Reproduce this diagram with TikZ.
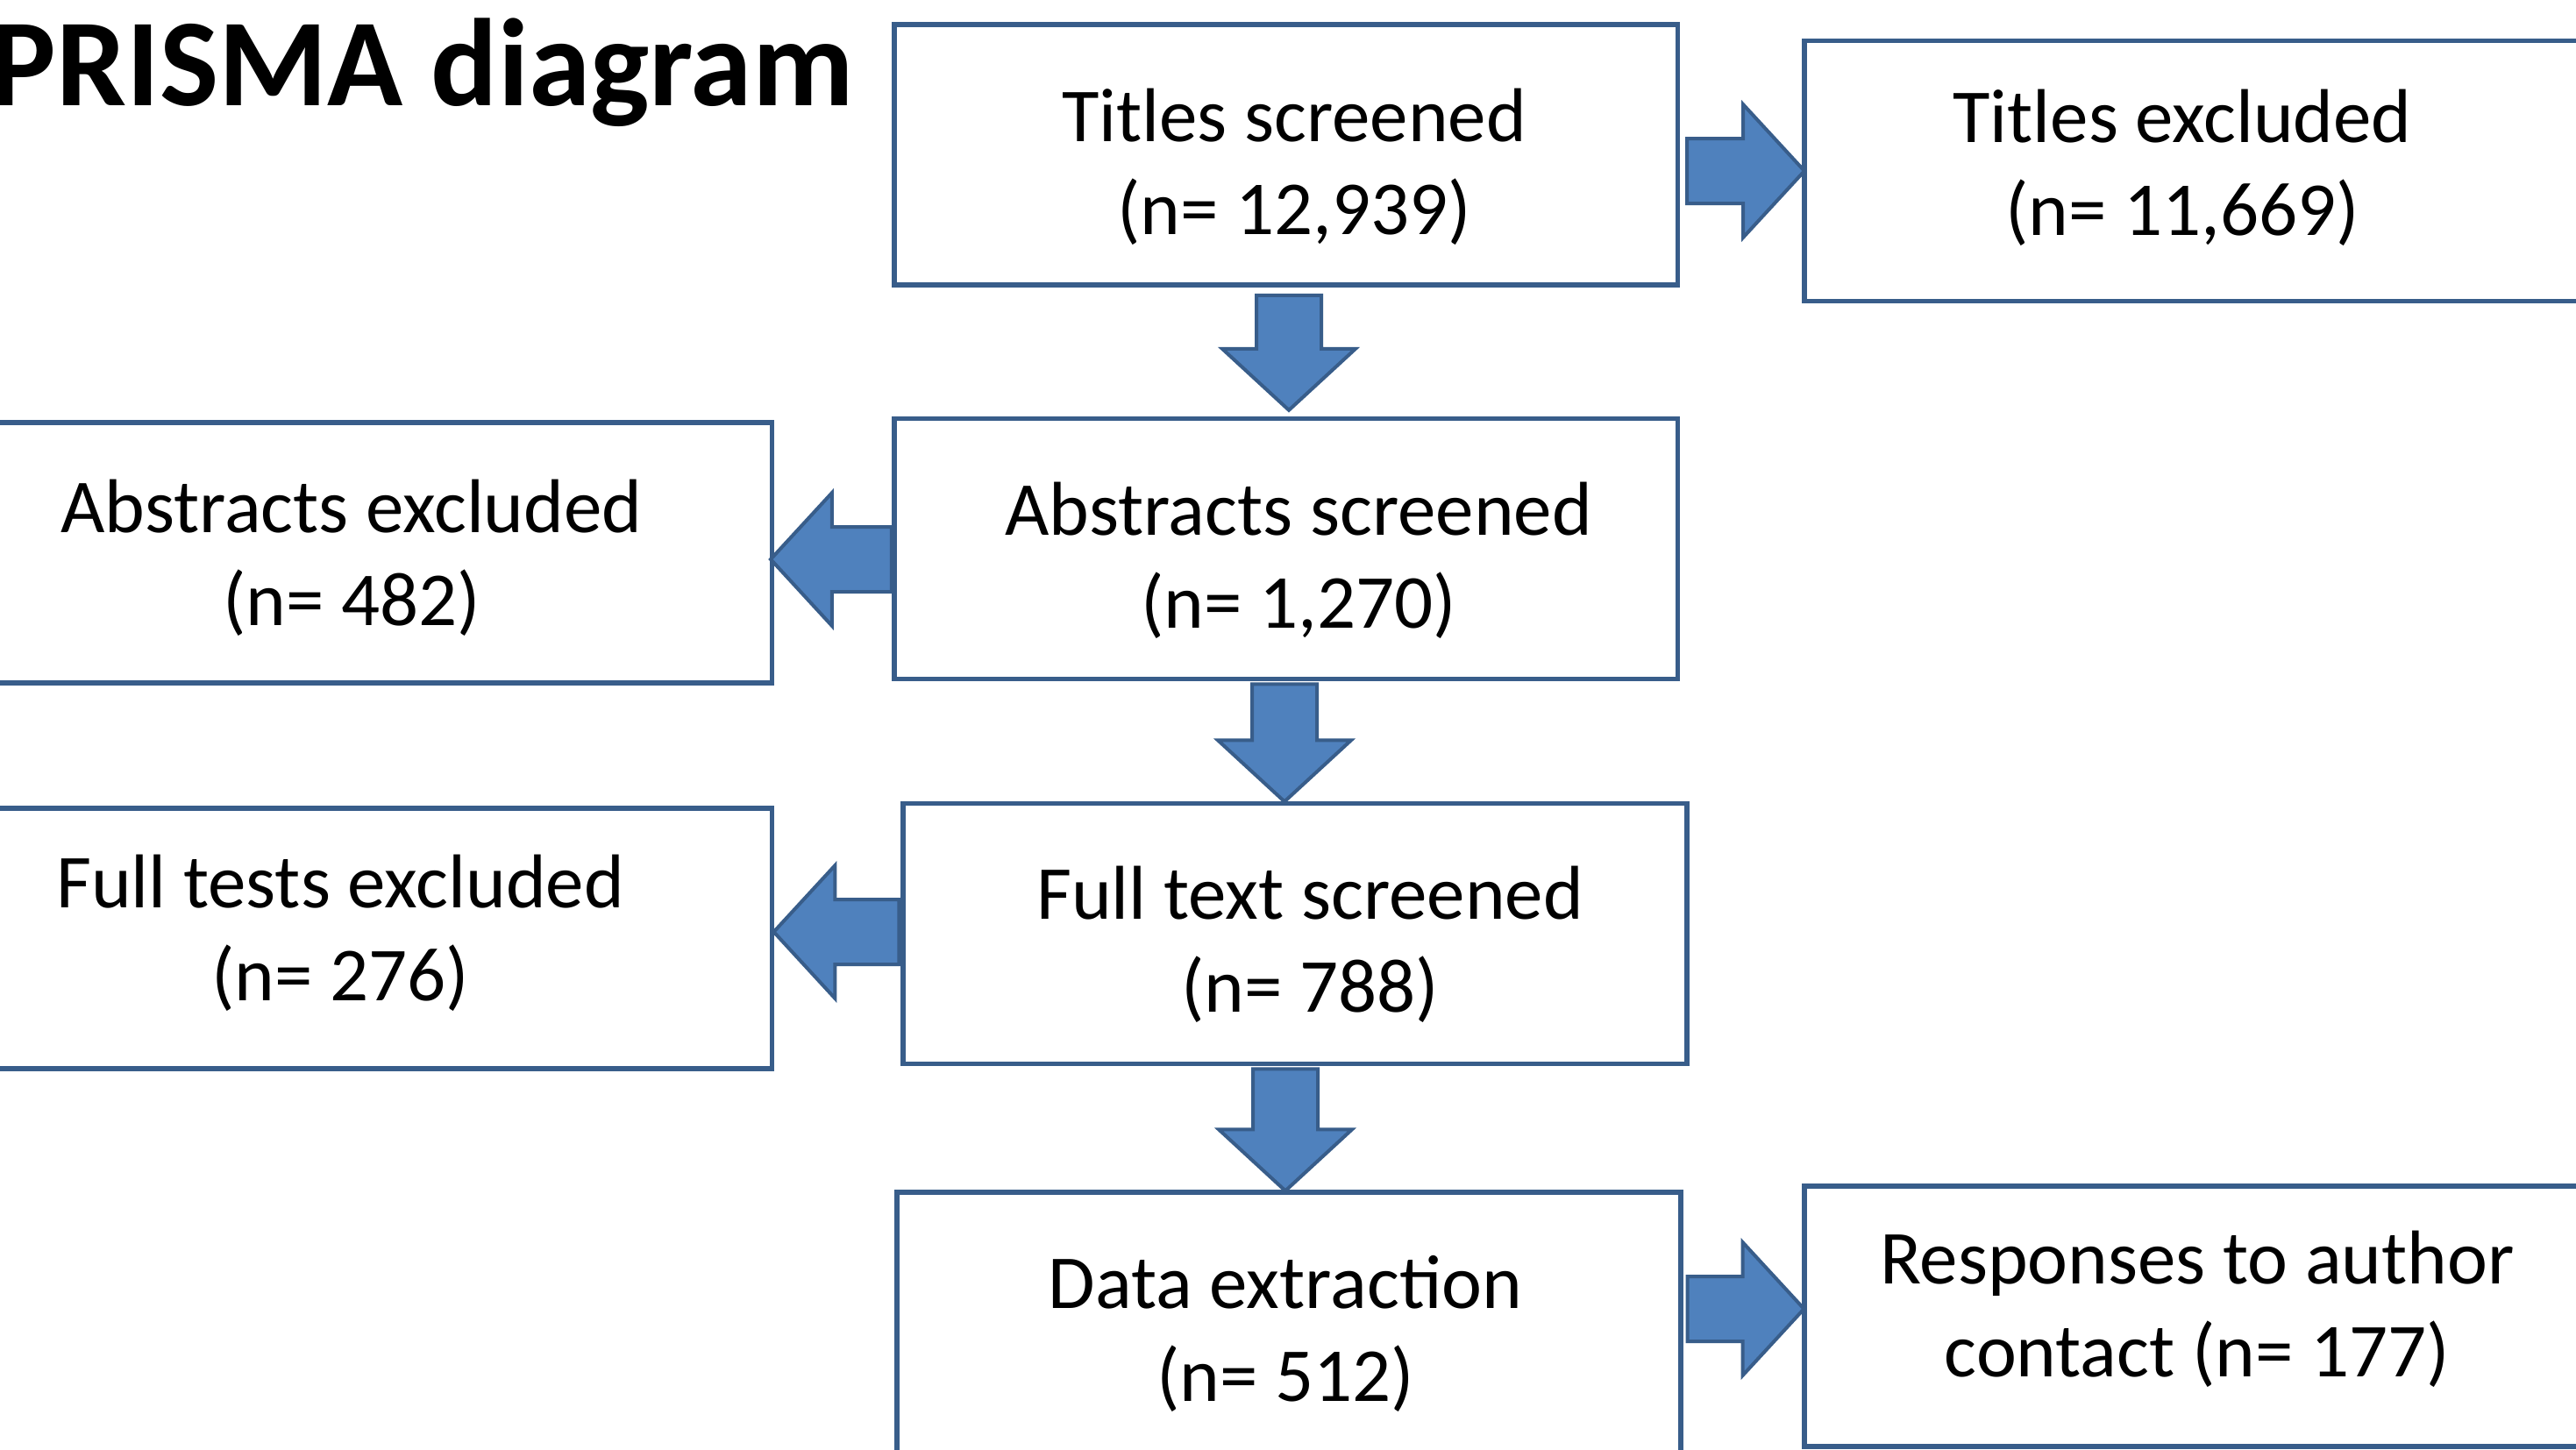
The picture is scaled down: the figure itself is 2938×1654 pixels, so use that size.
\documentclass[tikz,border=0pt]{standalone}
\usepackage{fontspec}
\setmainfont{Carlito}
\usetikzlibrary{calc}
\definecolor{edgeblue}{HTML}{385D8A}
\definecolor{fillblue}{HTML}{4F81BD}
\tikzset{
  stagebox/.style={draw=edgeblue, line width=0.055cm, minimum width=8.93cm,
    minimum height=2.97cm, inner sep=0},
  % anchored at the baseline of the last line
  boxtext/.style={inner sep=0, align=center, anchor=base,
    font=\fontsize{24.75pt}{29.9pt}\selectfont},
  % block arrow pointing along +x, tail at the origin, length #1
  pics/barrow/.style={code={
    \draw[draw=edgeblue, fill=fillblue, line width=0.04cm, line join=miter]
      (0,-37) -- (#1-70,-37) -- (#1-70,-76) -- (#1,0) -- (#1-70,76)
      -- (#1-70,37) -- (0,37) -- cycle;}},
}
\begin{document}
\begin{tikzpicture}[x=0.01cm,y=0.01cm]
\useasboundingbox (0,0) rectangle (2938,-1654);
\clip (0,0) rectangle (2938,-1654);

% title
\node[anchor=base west, inner sep=0, font=\fontsize{40.4pt}{48pt}\selectfont\bfseries]
  (title) at (-12,-120) {PRISMA diagram};

% stage boxes
\node[stagebox] (b1) at (1466.5,-176.5) {};
\node[stagebox] (b2) at (2504.5,-195)   {};
\node[stagebox] (b3) at (1466.5,-626)   {};
\node[stagebox] (b4) at (433.5,-630.5)  {};
\node[stagebox] (b5) at (1477,-1065)    {};
\node[stagebox] (b6) at (433.5,-1070.5) {};
\node[stagebox] (b7) at (1470,-1508.5)  {};
\node[stagebox] (b8) at (2504.5,-1501.5){};

% box texts
\node[boxtext] (t1) at (1476,-267)  {Titles screened\\(n= 12,939)};
\node[boxtext] (t2) at (2489,-268)  {Titles excluded\\(n= 11,669)};
\node[boxtext] (t3) at (1481,-716)  {Abstracts screened\\(n= 1,270)};
\node[boxtext] (t4) at (401,-713)   {Abstracts excluded\\(n= 482)};
\node[boxtext] (t5) at (1494,-1154) {Full text screened\\(n= 788)};
\node[boxtext] (t6) at (388,-1141)  {Full tests excluded\\(n= 276)};
\node[boxtext] (t7) at (1466,-1598) {Data extraction\\(n= 512)};
\node[boxtext] (t8) at (2506,-1570) {Responses to author\\contact (n= 177)};

% block arrows between the stages
\pic at ($(b1.east |- b2.west)+(8,0)$) {barrow=134};
\pic[rotate=-90] at ($(b1.south)+(3.5,-9)$) {barrow=131};
\pic[rotate=180] at ($(b3.west |- 0,-638)$) {barrow=138};
\pic[rotate=-90] at ($(b3.south)+(-1.5,-3)$) {barrow=134};
\pic[rotate=180] at ($(b5.west |- 0,-1063)+(-2,0)$) {barrow=143};
\pic[rotate=-90] at ($(b5.south)+(-11,-3)$) {barrow=139};
\pic at ($(b7.east |- b8.west)+(5,8.5)$) {barrow=133};
\end{tikzpicture}
\end{document}
